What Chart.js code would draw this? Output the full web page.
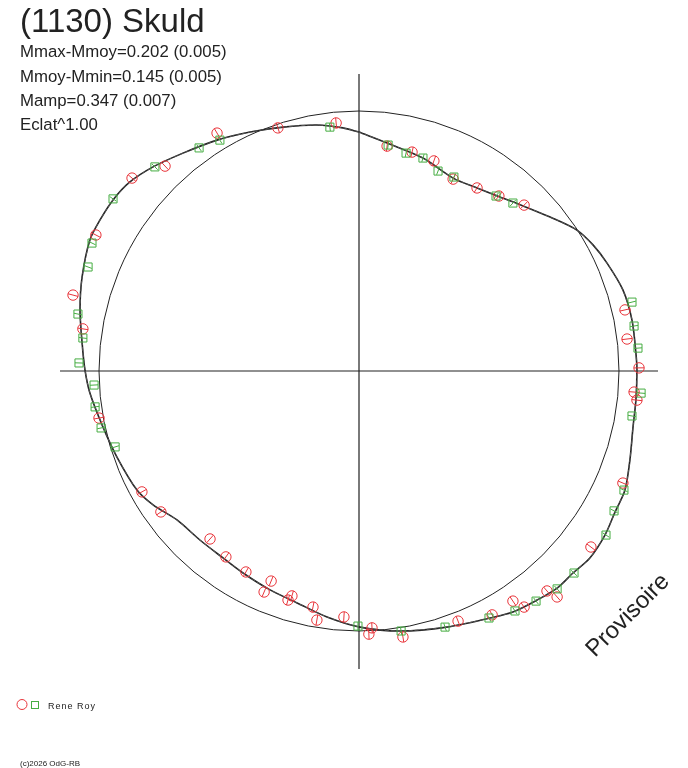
<!DOCTYPE html>
<html>
<head>
<meta charset="utf-8">
<script src="https://cdn.jsdelivr.net/npm/chart.js@4.4.1/dist/chart.umd.min.js"></script>
<style>
  html, body { margin: 0; padding: 0; background: #ffffff; }
  #wrap { width: 688px; height: 768px; position: relative; }
</style>
</head>
<body>
<div id="wrap"><canvas id="c" width="688" height="768"></canvas></div>
<script>
// ---- Texts ----
const titleText = "(1130) Skuld";
const infoLines = ["Mmax-Mmoy=0.202 (0.005)", "Mmoy-Mmin=0.145 (0.005)", "Mamp=0.347 (0.007)", "Eclat^1.00"];
const observerName = "Rene Roy";
const watermark = "Provisoire";
const copyright = "(c)2026 OdG-RB";

// ---- Data (units: radius of the reference circle = 1) ----
// Observations, set 1 (red circles)
const redX = [-0.546,-0.746,-0.873,-1.012,-0.312,-0.088,0.108,0.204,0.288,0.362,0.454,0.538,0.635,
  1.023,1.031,1.077,1.058,1.069,1.015,0.892,0.723,0.762,0.592,0.635,0.512,0.381,0.169,
  -0.835,-0.762,-0.573,-0.512,-0.435,-0.338,-0.365,-0.258,-0.273,-0.177,-0.162,-0.058,0.050,0.038,
  -1.100,-1.062,-1.000];
const redY = [0.915,0.788,0.742,0.523,0.935,0.954,0.865,0.842,0.808,0.738,0.704,0.673,0.638,
  0.235,0.123,0.012,-0.081,-0.112,-0.431,-0.677,-0.846,-0.869,-0.885,-0.908,-0.938,-0.962,-1.023,
  -0.465,-0.542,-0.646,-0.715,-0.773,-0.808,-0.850,-0.865,-0.881,-0.908,-0.958,-0.946,-0.988,-1.012,
  0.292,0.162,-0.181];
// Observations, set 2 (green squares)
const greenX = [-0.535,-0.615,-0.785,-0.946,-1.027,-1.042,-0.112,0.112,0.181,0.246,0.304,0.365,0.527,0.592,
  1.050,1.058,1.073,1.085,1.050,1.019,0.981,0.950,0.827,0.762,0.681,0.600,0.500,0.331,0.162,-0.004,
  -1.081,-1.062,-1.077,-1.019,-1.015,-0.992,-0.938];
const greenY = [0.888,0.858,0.785,0.662,0.492,0.400,0.938,0.869,0.838,0.819,0.769,0.746,0.673,0.646,
  0.265,0.173,0.088,-0.085,-0.173,-0.458,-0.538,-0.631,-0.777,-0.838,-0.885,-0.923,-0.950,-0.985,-1.000,-0.981,
  0.219,0.127,0.031,-0.054,-0.138,-0.219,-0.292];
// Fitted curve (clockwise from top)
const fitX = [0.000,0.108,0.246,0.362,0.454,0.542,0.631,0.735,0.838,0.900,0.954,1.015,1.050,1.065,1.069,1.065,
  1.054,1.042,1.023,0.985,0.946,0.888,0.823,0.762,0.685,0.592,0.504,0.338,0.158,0.004,-0.123,-0.238,-0.342,
  -0.446,-0.523,-0.612,-0.700,-0.792,-0.854,-0.931,-0.985,-1.035,-1.054,-1.065,-1.073,-1.065,-1.035,-0.996,
  -0.946,-0.881,-0.792,-0.677,-0.546,-0.419,-0.292,-0.162,-0.062,0.000];
const fitY = [0.919,0.877,0.819,0.742,0.704,0.669,0.635,0.592,0.542,0.485,0.415,0.312,0.196,0.069,0.004,-0.112,
  -0.215,-0.342,-0.458,-0.542,-0.631,-0.719,-0.777,-0.835,-0.881,-0.927,-0.950,-0.985,-1.000,-0.985,-0.946,-0.892,-0.842,
  -0.777,-0.719,-0.650,-0.573,-0.515,-0.458,-0.331,-0.215,-0.085,0.004,0.108,0.235,0.362,0.504,0.581,
  0.658,0.727,0.785,0.838,0.888,0.919,0.938,0.946,0.935,0.919];
// Axis cross extents
const axisVY = [1.142, -1.146];
const axisHX = [-1.150, 1.150];
const refRadius = 1;

// ---- View window ----
const view = { xMin: -1.3808, xMax: 1.2654, yMin: -1.5269, yMax: 1.4269 };

const INK = '#222222';
const RED = '#e8343a';
const GREEN = '#46ad42';

const zip = (xs, ys) => xs.map((x, i) => ({ x: x, y: ys[i] }));
const radialRot = (ctx) => {
  const p = ctx.raw;
  if (!p) return 0;
  return Math.atan2(-p.y, p.x) * 180 / Math.PI;
};

const decor = {
  id: 'decor',
  beforeDatasetsDraw(chart) {
    const { ctx, scales: { x, y } } = chart;
    const cx = x.getPixelForValue(0), cy = y.getPixelForValue(0);
    const r = x.getPixelForValue(refRadius) - cx;
    ctx.save();
    ctx.strokeStyle = INK;
    ctx.lineWidth = 1;
    ctx.beginPath();
    ctx.arc(cx, cy, r, 0, Math.PI * 2);
    ctx.stroke();
    ctx.restore();
  },
  afterDraw(chart) {
    const { ctx } = chart;
    ctx.save();
    ctx.fillStyle = INK;
    ctx.textBaseline = 'alphabetic';
    ctx.textAlign = 'left';
    ctx.font = '33px "Liberation Sans", Arial, sans-serif';
    ctx.fillText(titleText, 20, 32);
    ctx.font = '16.8px "Liberation Sans", Arial, sans-serif';
    const base = [57, 82, 106, 130];
    infoLines.forEach((t, i) => ctx.fillText(t, 20, base[i]));

    // watermark
    ctx.save();
    ctx.translate(595, 658);
    ctx.rotate(-Math.PI / 4);
    ctx.font = '24px "Liberation Sans", Arial, sans-serif';
    ctx.fillText(watermark, 0, 0);
    ctx.restore();

    // legend
    ctx.lineWidth = 1;
    ctx.strokeStyle = RED;
    ctx.beginPath();
    ctx.arc(22, 704.5, 5, 0, Math.PI * 2);
    ctx.stroke();
    ctx.strokeStyle = GREEN;
    ctx.strokeRect(31.5, 701.5, 7, 7);
    ctx.font = '9px "Liberation Sans", Arial, sans-serif';
    if ('letterSpacing' in ctx) ctx.letterSpacing = '1px';
    ctx.fillText(observerName, 48, 709);
    if ('letterSpacing' in ctx) ctx.letterSpacing = '0px';
    ctx.font = '8px "Liberation Sans", Arial, sans-serif';
    ctx.fillText(copyright, 20, 766);
    ctx.restore();
  }
};

new Chart(document.getElementById('c'), {
  type: 'scatter',
  data: {
    datasets: [
      { data: [{ x: 0, y: axisVY[0] }, { x: 0, y: axisVY[1] }], showLine: true, borderColor: INK, borderWidth: 1.2, pointRadius: 0, order: 10 },
      { data: [{ x: axisHX[0], y: 0 }, { x: axisHX[1], y: 0 }], showLine: true, borderColor: INK, borderWidth: 1.2, pointRadius: 0, order: 10 },
      { data: zip(fitX, fitY), showLine: true, borderColor: INK, borderWidth: 1.6, pointRadius: 0, tension: 0.3, order: 5 },
      { data: zip(fitX, fitY), showLine: true, borderColor: '#555555', borderWidth: 1, borderDash: [4, 2], pointRadius: 0, tension: 0.25, order: 4 },
      { data: zip(redX, redY), pointStyle: 'circle', pointRadius: 5.2, borderColor: RED, backgroundColor: 'rgba(0,0,0,0)', borderWidth: 1, order: 2 },
      { data: zip(redX, redY), pointStyle: 'line', pointRadius: 5.2, rotation: radialRot, borderColor: RED, borderWidth: 1, order: 2 },
      { data: zip(greenX, greenY), pointStyle: 'rect', pointRadius: 5.7, borderColor: GREEN, backgroundColor: 'rgba(0,0,0,0)', borderWidth: 1, order: 1 },
      { data: zip(greenX, greenY), pointStyle: 'line', pointRadius: 4, rotation: radialRot, borderColor: GREEN, borderWidth: 1, order: 1 }
    ]
  },
  options: {
    responsive: false,
    animation: false,
    devicePixelRatio: 1,
    layout: { padding: 0, autoPadding: false },
    scales: {
      x: { type: 'linear', display: false, min: view.xMin, max: view.xMax },
      y: { type: 'linear', display: false, min: view.yMin, max: view.yMax }
    },
    plugins: { legend: { display: false }, tooltip: { enabled: false }, title: { display: false } },
    elements: { point: { hoverRadius: 0 } },
    events: []
  },
  plugins: [decor]
});
</script>
</body>
</html>
